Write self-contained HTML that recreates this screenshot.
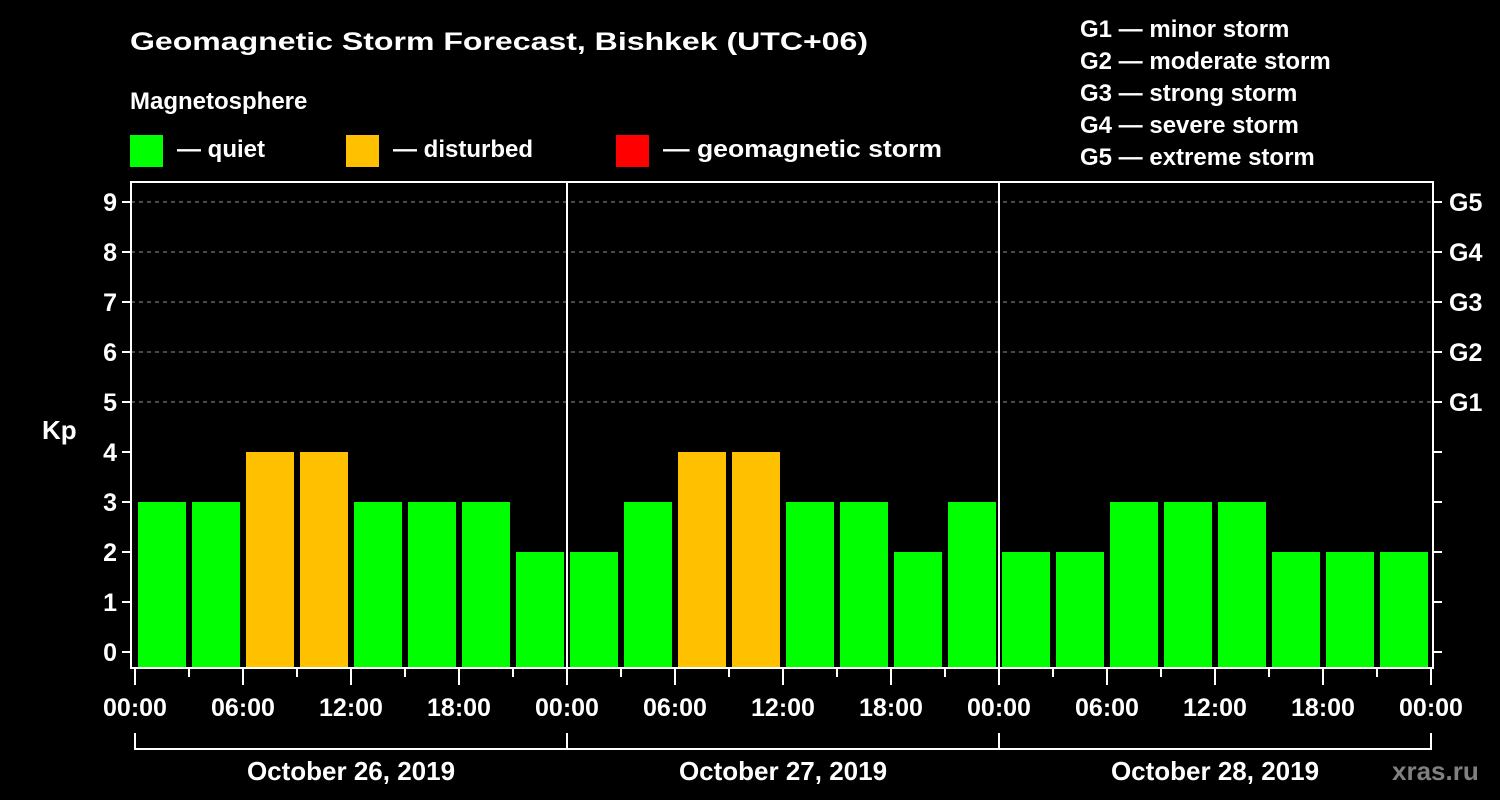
<!DOCTYPE html>
<html><head><meta charset="utf-8"><style>
html,body{margin:0;padding:0;background:#000;}
svg{display:block;font-family:"Liberation Sans",Arial,sans-serif;font-weight:bold;}
</style></head><body>
<svg id="chart" width="1500" height="800" viewBox="0 0 1500 800">
<rect width="1500" height="800" fill="#000"/>
<text x="130" y="50" fill="#fff" font-size="25" textLength="738" lengthAdjust="spacingAndGlyphs">Geomagnetic Storm Forecast, Bishkek (UTC+06)</text>
<text x="130" y="109" fill="#fff" font-size="24">Magnetosphere</text>
<g><rect x="130" y="135" width="33" height="32" fill="#00ff00"/><text x="177" y="157" fill="#fff" font-size="24">— quiet</text></g>
<g><rect x="346" y="135" width="33" height="32" fill="#ffc000"/><text x="393" y="157" fill="#fff" font-size="24">— disturbed</text></g>
<g><rect x="616" y="135" width="33" height="32" fill="#ff0000"/><text x="663" y="157" fill="#fff" font-size="24" textLength="279" lengthAdjust="spacingAndGlyphs">— geomagnetic storm</text></g>
<g font-size="24" fill="#fff">
<text x="1080" y="37">G1 — minor storm</text>
<text x="1080" y="69">G2 — moderate storm</text>
<text x="1080" y="101">G3 — strong storm</text>
<text x="1080" y="133">G4 — severe storm</text>
<text x="1080" y="165">G5 — extreme storm</text>
</g>
<text x="42" y="439" fill="#fff" font-size="26">Kp</text>
<text x="1392" y="780" fill="#808080" font-size="26">xras.ru</text>
<g id="plot"></g>
</svg>
<script>
const kpValues=[3,3,4,4,3,3,3,2, 2,3,4,4,3,3,2,3, 2,2,3,3,3,2,2,2];
const yTicks=[0,1,2,3,4,5,6,7,8,9];
const gLabels=["G1","G2","G3","G4","G5"];
const gLevels=[5,6,7,8,9];
const xTickLabels=["00:00","06:00","12:00","18:00","00:00","06:00","12:00","18:00","00:00","06:00","12:00","18:00","00:00"];
const dayLabels=["October 26, 2019","October 27, 2019","October 28, 2019"];

const NS="http://www.w3.org/2000/svg";
const g=document.getElementById('plot');
const X0=135,HOUR=18,Y0=652,UNIT=50,BOT=668,TOP=182,LEFT=131,RIGHT=1433;
const xs=h=>X0+h*HOUR, ys=v=>Y0-v*UNIT;
function mk(tag,attrs){const e=document.createElementNS(NS,tag);for(const k in attrs)e.setAttribute(k,attrs[k]);g.appendChild(e);return e;}
function color(v){return v>=5?'#ff0000':(v>=4?'#ffc000':'#00ff00');}

// grid
yTicks.forEach(v=>{
  if(v>=5){const l=mk('line',{x1:LEFT,x2:RIGHT,y1:ys(v),y2:ys(v),stroke:'#909090','stroke-width':1,'stroke-dasharray':'4,4'});
  
  }
});
// bars
kpValues.forEach((v,i)=>{
  const cx=xs(i*3+1.5);
  const r=mk('rect',{x:cx-24,y:ys(v),width:48,height:BOT-ys(v),fill:color(v)});
  
  
});
// day separators
[1,2].forEach(d=>{
  const l=mk('line',{x1:xs(d*24),x2:xs(d*24),y1:TOP,y2:BOT,stroke:'#fff','stroke-width':2});
  
  
});
// frame
const fr=mk('rect',{x:LEFT,y:TOP,width:RIGHT-LEFT,height:BOT-TOP,fill:'none',stroke:'#fff','stroke-width':2});


// y ticks
yTicks.forEach(v=>{
  mk('line',{x1:LEFT-9,x2:LEFT,y1:ys(v),y2:ys(v),stroke:'#fff','stroke-width':2});
  mk('line',{x1:RIGHT,x2:RIGHT+9,y1:ys(v),y2:ys(v),stroke:'#fff','stroke-width':2});
  const t=mk('text',{x:LEFT-14,y:ys(v)+9,fill:'#fff','font-size':25,'text-anchor':'end'});
  t.textContent=v;
  
  
});
gLabels.forEach((s,i)=>{
  const t=mk('text',{x:1449,y:ys(gLevels[i])+9,fill:'#fff','font-size':25});
  t.textContent=s;
  
  
});
// x ticks
for(let h=0;h<=72;h+=3){
  const major=h%6===0;
  mk('line',{x1:xs(h),x2:xs(h),y1:BOT,y2:BOT+(major?17:9),stroke:'#fff','stroke-width':2});
}
xTickLabels.forEach((s,i)=>{
  const t=mk('text',{x:xs(i*6),y:716,fill:'#fff','font-size':25,'text-anchor':'middle'});
  t.textContent=s;
  
  
});
// day brackets
dayLabels.forEach((s,d)=>{
  const a=xs(d*24),b=xs(d*24+24);
  mk('polyline',{points:`${a},733 ${a},749 ${b},749 ${b},733`,fill:'none',stroke:'#fff','stroke-width':2});
  const t=mk('text',{x:(a+b)/2,y:780,fill:'#fff','font-size':26,'text-anchor':'middle'});
  t.textContent=s;
  
  
});
</script>
</body></html>
